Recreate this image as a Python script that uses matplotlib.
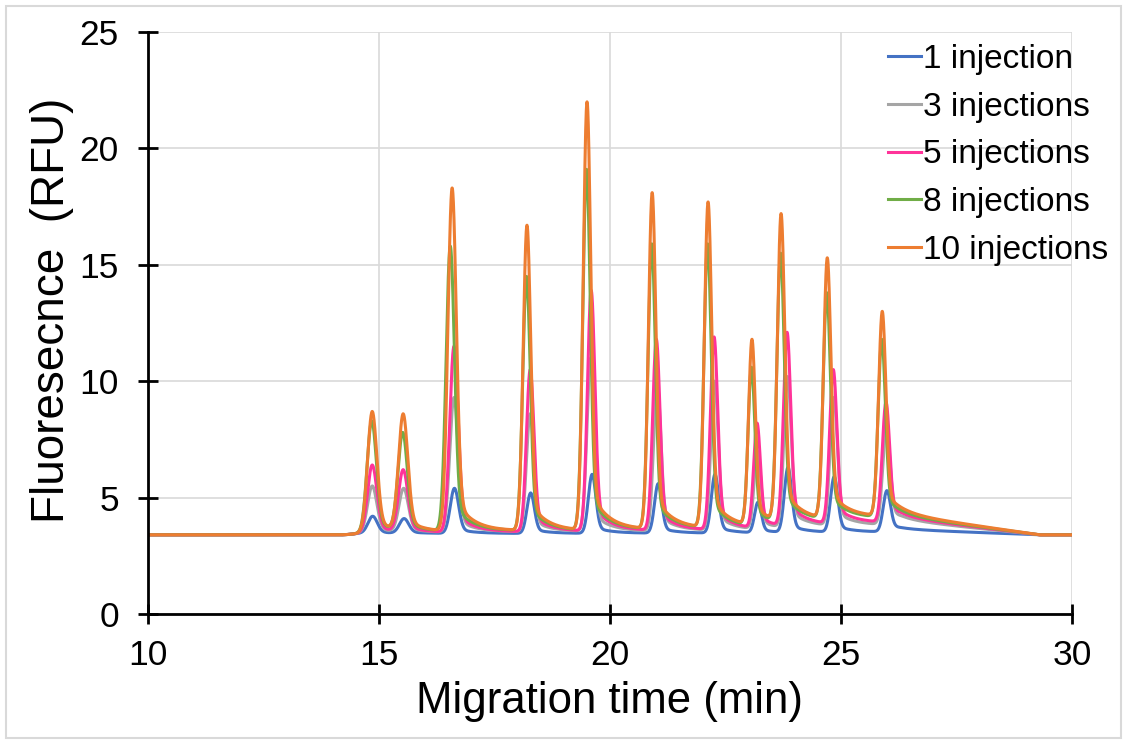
import numpy as np
import matplotlib
matplotlib.use("Agg")
import matplotlib.pyplot as plt
from matplotlib.patches import Rectangle
from math import erf

plt.rcParams["font.family"] = ["Liberation Sans", "DejaVu Sans"]

# ---- peak tables (migration time in min, peak top in RFU) ----
series_labels = ["1 injection", "3 injections", "5 injections", "8 injections", "10 injections"]
series_colors = ["#4472C4", "#A5A5A5", "#FF3399", "#70AD47", "#ED7D31"]

baseline_rfu = 3.4

times_1 = [14.86, 15.54, 16.63, 18.28, 19.61, 21.04, 22.27, 23.20, 23.85, 24.85, 25.99]
times_3 = [14.85, 15.53, 16.62, 18.27, 19.58, 21.02, 22.26, 23.19, 23.84, 24.84, 25.98]
times_5 = [14.85, 15.52, 16.62, 18.27, 19.59, 21.00, 22.25, 23.18, 23.83, 24.83, 25.97]
times_8 = [14.84, 15.51, 16.54, 18.19, 19.49, 20.90, 22.11, 23.06, 23.69, 24.69, 25.88]
times_10 = [14.85, 15.52, 16.58, 18.20, 19.50, 20.91, 22.12, 23.07, 23.70, 24.70, 25.89]

heights_1 = [4.2, 4.1, 5.4, 5.2, 6.0, 5.6, 6.0, 4.8, 6.3, 5.9, 5.3]
heights_3 = [5.5, 5.4, 9.3, 8.6, 11.0, 9.9, 10.0, 7.0, 10.2, 9.3, 8.0]
heights_5 = [6.4, 6.2, 11.5, 10.5, 13.9, 11.8, 11.9, 8.2, 12.1, 10.5, 9.1]
heights_8 = [8.3, 7.8, 15.8, 14.5, 19.1, 15.9, 15.9, 10.6, 15.5, 13.8, 11.8]
heights_10 = [8.7, 8.6, 18.3, 16.7, 22.0, 18.1, 17.7, 11.8, 17.2, 15.3, 13.0]

# baseline level left behind after each peak
level_1 = [3.38, 3.38, 3.38, 3.38, 3.39, 3.39, 3.39, 3.40, 3.42, 3.44, 3.55]
level_3 = [3.42, 3.42, 3.45, 3.46, 3.48, 3.50, 3.52, 3.56, 3.68, 3.74, 3.95]
level_5 = [3.42, 3.42, 3.45, 3.47, 3.50, 3.52, 3.55, 3.60, 3.74, 3.84, 4.05]
level_8 = [3.45, 3.45, 3.50, 3.50, 3.55, 3.60, 3.63, 3.72, 3.92, 4.05, 4.15]
level_10 = [3.45, 3.45, 3.50, 3.50, 3.55, 3.60, 3.65, 3.75, 3.95, 4.10, 4.22]

# peak widths (gaussian sigma, min)
peak_sigma = [0.1, 0.1, 0.09, 0.08, 0.08, 0.078, 0.078, 0.072, 0.078, 0.078, 0.078]
tail_fraction = 0.12
tail_tau = 0.35
drift_end = 29.3

all_times = [times_1, times_3, times_5, times_8, times_10]
all_heights = [heights_1, heights_3, heights_5, heights_8, heights_10]
all_levels = [level_1, level_3, level_5, level_8, level_10]

t = np.linspace(10, 30, 6001)
vphi = np.vectorize(lambda z: 0.5 * (1 + erf(z / np.sqrt(2))))


def baseline_curve(times, levels):
    y = np.full_like(t, baseline_rfu)
    prev = baseline_rfu
    for ti, lv, s in zip(times, levels, peak_sigma):
        y += (lv - prev) * vphi((t - ti) / (1.5 * s))
        prev = lv
    # slow rise ahead of the first band
    y += 0.08 * vphi((t - 14.45) / 0.15)
    # drift back to the starting level after the last band
    start = times[-1] + 0.3
    k0 = np.searchsorted(t, start)
    ramp = np.clip((drift_end - t) / (drift_end - start), 0, 1)
    y[k0:] = baseline_rfu + (y[k0] - baseline_rfu) * ramp[k0:]
    return y


def peak_shape(ti, s):
    dt = t - ti
    g = np.exp(-0.5 * (dt / s) ** 2)
    tail = tail_fraction * np.exp(-np.clip(dt, 0, None) / tail_tau) * vphi(dt / s)
    return g + tail


def trace(times, heights, levels):
    base = baseline_curve(times, levels)
    shapes = [peak_shape(ti, s) for ti, s in zip(times, peak_sigma)]
    amps = [h - lv for h, lv in zip(heights, levels)]
    for _ in range(6):
        y = base + sum(a * sh for a, sh in zip(amps, shapes))
        for k, (ti, h) in enumerate(zip(times, heights)):
            win = np.abs(t - ti) < 0.05
            amps[k] += h - y[win].max()
    return base + sum(a * sh for a, sh in zip(amps, shapes))


fig = plt.figure(figsize=(11.27, 7.44), dpi=100)
ax = fig.add_axes([148 / 1127, 1 - 614 / 744, 924 / 1127, 582 / 744])

for times, heights, levels, lab, col in zip(all_times, all_heights, all_levels,
                                            series_labels, series_colors):
    ax.plot(t, trace(times, heights, levels), color=col, lw=2.2, label=lab,
            solid_joinstyle="round")

ax.set_xlim(10, 30)
ax.set_ylim(0, 25)
ax.set_xticks([10, 15, 20, 25, 30])
ax.set_yticks([0, 5, 10, 15, 20, 25])
ax.grid(True, color="#D9D9D9", lw=1.2)
ax.set_axisbelow(True)
for side in ("top", "right"):
    ax.spines[side].set_visible(False)
for side in ("left", "bottom"):
    ax.spines[side].set_linewidth(2.0)
    ax.spines[side].set_color("black")
ax.tick_params(direction="inout", length=14, width=2.0, labelsize=25.5, color="black")
ax.tick_params(axis="y", pad=14)
ax.tick_params(axis="x", pad=11)

ax.set_xlabel("Migration time (min)", fontsize=31.5)
ax.xaxis.set_label_coords(0.5, -0.115)
ax.set_ylabel("Fluoresecnce  (RFU)", fontsize=33)
ax.yaxis.set_label_coords(-0.08, 0.522)

ax.legend(loc="upper left", bbox_to_anchor=(888 / 1127, 1 - 44 / 744),
          bbox_transform=fig.transFigure, frameon=False, fontsize=24,
          handlelength=1.0, handletextpad=0.05, labelspacing=0.5,
          borderpad=0, borderaxespad=0)

fig.patches.append(Rectangle((6 / 1127, 6 / 744), 1 - 12 / 1127, 1 - 12 / 744,
                             transform=fig.transFigure, fill=False,
                             edgecolor="#D9D9D9", lw=1.5))

fig.savefig("out.png", dpi=100)
